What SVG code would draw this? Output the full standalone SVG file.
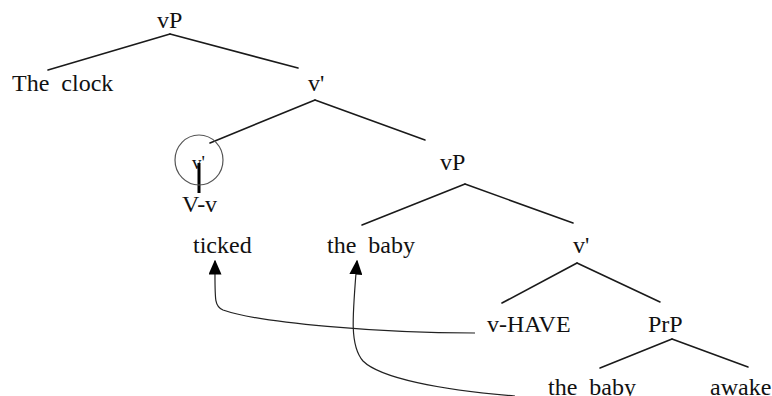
<svg xmlns="http://www.w3.org/2000/svg" width="772" height="396" viewBox="0 0 772 396">
<defs>
<style>
.t{font-family:"Liberation Serif","Times New Roman",serif;font-size:24px;fill:#111;white-space:pre}
.s{font-size:19px}
.e{stroke:#1a1a1a;stroke-width:1.6;fill:none;stroke-linecap:round}
.a{stroke:#222;stroke-width:1.2;fill:none}
</style>
<marker id="ah" viewBox="0 0 10 10" refX="9" refY="5" markerWidth="15" markerHeight="13" markerUnits="userSpaceOnUse" orient="auto" preserveAspectRatio="none">
<path d="M0,0 L10,5 L0,10 z" fill="#000"/>
</marker>
</defs>
<rect width="772" height="396" fill="#fff"/>
<g id="edges">
<line class="e" x1="170" y1="34" x2="48" y2="70"/>
<line class="e" x1="170" y1="34" x2="298" y2="68"/>
<line class="e" x1="315" y1="100" x2="210" y2="143"/>
<line class="e" x1="315" y1="100" x2="425" y2="140"/>
<line x1="199" y1="163" x2="199" y2="193" stroke="#000" stroke-width="3"/>
<line class="e" x1="465" y1="184" x2="362" y2="225"/>
<line class="e" x1="465" y1="184" x2="573" y2="223"/>
<line class="e" x1="577" y1="263" x2="502" y2="303"/>
<line class="e" x1="577" y1="263" x2="660" y2="302"/>
<line class="e" x1="672" y1="339" x2="600" y2="368"/>
<line class="e" x1="672" y1="339" x2="748" y2="367"/>
<path class="a" d="M475,333 C380,333 260,323 223,310 C214,306 215,300 215,261" marker-end="url(#ah)"/>
<path class="a" d="M515,396 C440,390 380,378 363,361 C350,346 352,320 357,261" marker-end="url(#ah)"/>
</g>
<g id="n-vP"><text class="t" x="157" y="28">vP</text></g>
<g id="n-theclock"><text class="t" x="12" y="91" xml:space="preserve">The  clock</text></g>
<g id="n-vbar1"><text class="t" x="308" y="91">v'</text></g>
<g id="n-vbar-circle"><ellipse cx="199" cy="160" rx="24" ry="25" fill="none" stroke="#555" stroke-width="1.2"/><text class="t s" x="192" y="169">v'</text></g>
<g id="n-Vv"><text class="t" x="182" y="212">V-v</text></g>
<g id="n-vP2"><text class="t" x="440" y="170">vP</text></g>
<g id="n-ticked"><text class="t" x="193" y="253">ticked</text></g>
<g id="n-thebaby1"><text class="t" x="327" y="253" xml:space="preserve">the  baby</text></g>
<g id="n-vbar2"><text class="t" x="573" y="253">v'</text></g>
<g id="n-vHAVE"><text class="t" x="487" y="332">v-HAVE</text></g>
<g id="n-PrP"><text class="t" x="648" y="332">PrP</text></g>
<g id="n-thebaby2"><text class="t" x="548" y="395" xml:space="preserve">the  baby</text></g>
<g id="n-awake"><text class="t" x="710" y="395">awake</text></g>
</svg>
